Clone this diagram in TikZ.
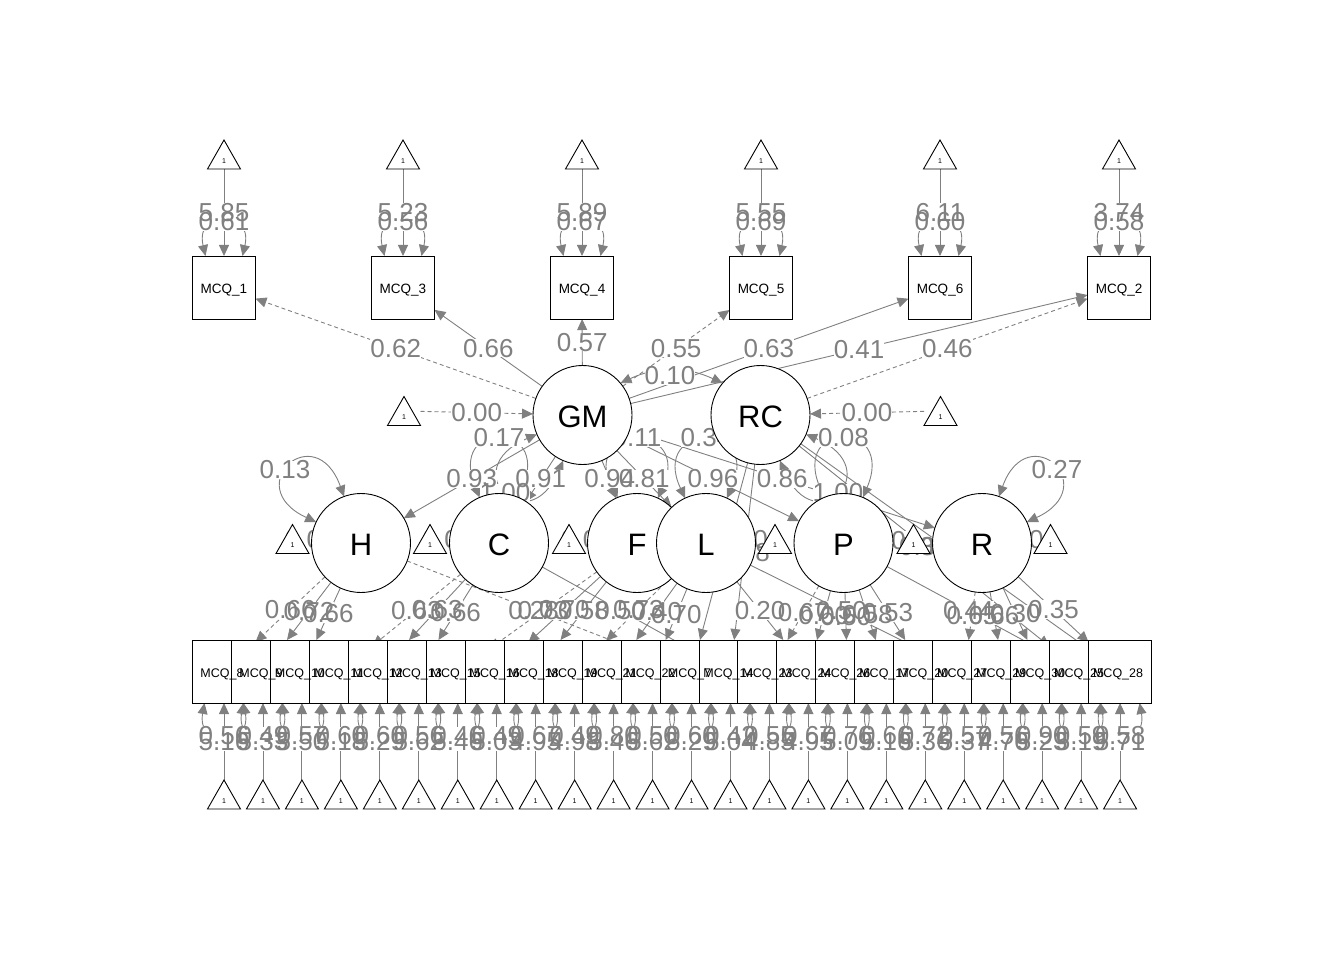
\documentclass[tikz,border=0pt]{standalone}
\usepackage{fontspec}
\setmainfont{Liberation Sans}
\usetikzlibrary{arrows.meta}
\pgfdeclarelayer{edges}
\pgfdeclarelayer{lbg}
\pgfdeclarelayer{lfg}
\pgfdeclarelayer{nlab}
\pgfsetlayers{edges,lbg,lfg,main,nlab}
\tikzset{
 edge/.style={draw=gray, line width=0.9pt, -{Triangle[length=11pt,width=10pt]}},
 dsh/.style={dash pattern=on 4pt off 3pt},
 loopedge/.style={draw=gray, line width=0.9pt, {Triangle[length=11pt,width=10pt]}-{Triangle[length=11pt,width=10pt]}},
 lbl/.style={font=\fontsize{26}{26}\selectfont, text=gray, inner sep=0pt},
 lat/.style={circle, draw=black, fill=white, line width=0.9pt, minimum size=99pt, inner sep=0pt, outer sep=0pt},
 man/.style={rectangle, draw=black, fill=white, line width=0.9pt, minimum width=63pt, minimum height=63pt, inner sep=0pt, outer sep=0pt},
 tribox/.style={rectangle, minimum width=33pt, minimum height=29pt, inner sep=0pt, outer sep=0pt},
 tri/.style={draw=black, fill=white, line width=0.9pt},
 latlab/.style={font=\fontsize{31}{31}\selectfont, inner sep=0pt, yshift=-1.5pt},
 mlab/.style={font=\fontsize{13.5}{13.5}\selectfont, inner sep=0pt, yshift=-3pt},
 mlabb/.style={font=\fontsize{12.5}{12.5}\selectfont, inner sep=0pt, yshift=-3pt, xshift=-2pt},
 onelab/.style={font=\fontsize{7}{7}\selectfont, inner sep=0pt}
}
\newcommand\elab[2]{%
 \begin{pgfonlayer}{lbg}\node[lbl,fill=white,text=white] at (#1) {#2};\end{pgfonlayer}%
 \begin{pgfonlayer}{lfg}\node[lbl] at (#1) {#2};\end{pgfonlayer}}
\newcommand\ledge[4][]{%
 \begin{pgfonlayer}{edges}\draw[edge,#1] (#2) -- coordinate[midway] (tmpm) (#3);\end{pgfonlayer}%
 \elab{tmpm}{#4}}
\newcommand\lloop[7]{%
 \begin{pgfonlayer}{edges}\draw[loopedge] (#1.#2) .. controls +(#2:#4) and +(#3:#4) .. (#1.#3);\end{pgfonlayer}%
 \elab{#5,#6}{#7}}
\newcommand\trinode[3]{%
 \node[tribox] (#1) at (#2,#3) {};
 \draw[tri] (#1.south west) -- (#1.south east) -- (#1.north) -- cycle;
 \begin{pgfonlayer}{nlab}\node[onelab] at ([yshift=8pt]#1.south) {1};\end{pgfonlayer}}
\newcommand\latnode[4]{%
 \node[lat] (#1) at (#2,#3) {};
 \begin{pgfonlayer}{nlab}\node[latlab] at (#1) {#4};\end{pgfonlayer}}
\def\botlist{8/0.56/5.16, 9/0.49/5.33, 10/0.57/5.50, 11/0.60/5.18, 12/0.60/5.29, 13/0.56/5.62, 15/0.46/5.46, 16/0.49/5.03, 18/0.67/4.95, 19/0.49/4.98, 21/0.80/5.46, 22/0.50/5.62, 7/0.60/5.29, 14/0.42/5.04, 23/0.55/4.85, 24/0.67/4.95, 26/0.76/5.09, 17/0.66/5.16, 20/0.72/5.36, 27/0.57/5.37, 29/0.56/4.76, 30/0.90/5.23, 25/0.59/5.19, 28/0.58/5.71}
\begin{document}
\begin{tikzpicture}[x=1pt,y=1pt]
\useasboundingbox (0,0) rectangle (1344,-960);
% ---------- top manifest items
\foreach \n/\x/\iv/\rv in {1/224/5.85/0.61, 3/403/5.23/0.56, 4/582/5.89/0.67, 5/761/5.55/0.69, 6/940/6.11/0.60, 2/1119/3.74/0.58} {
 \node[man] (m\n) at (\x,-287.5) {};
 \begin{pgfonlayer}{nlab}\node[mlab] at (m\n) {MCQ\_\n};\end{pgfonlayer}
 \trinode{i\n}{\x}{-154.5}
 \ledge{i\n}{m\n}{\iv}
 \begin{pgfonlayer}{edges}\draw[loopedge] ([xshift=-18.5pt]m\n.north) .. controls +(-11,48) and +(11,48) .. ([xshift=18.5pt]m\n.north);\end{pgfonlayer}
 \elab{[yshift=34pt]m\n.north}{\rv}
}
% ---------- bottom manifest items
\foreach \n/\rv/\iv [count=\k from 0] in \botlist {
 \pgfmathsetmacro\xx{224+38.96*\k}
 \node[man] (m\n) at (\xx,-671.5) {};
 \begin{pgfonlayer}{nlab}\node[mlabb] at (m\n) {MCQ\_\n};\end{pgfonlayer}
 \trinode{i\n}{\xx}{-794.5}
 \ledge{i\n}{m\n}{\iv}
 \begin{pgfonlayer}{edges}\draw[loopedge] ([xshift=-19.5pt]m\n.south) .. controls +(-8,-45) and +(8,-45) .. ([xshift=19.5pt]m\n.south);\end{pgfonlayer}
 \elab{[yshift=-33pt]m\n.south}{\rv}
}
% ---------- latents
\latnode{GM}{582.5}{-415}{GM}
\latnode{RC}{760.5}{-415}{RC}
\latnode{H}{361}{-543}{H}
\latnode{C}{499}{-543}{C}
\latnode{F}{637}{-543}{F}
\latnode{L}{706}{-543}{L}
\latnode{P}{843.5}{-543}{P}
\latnode{R}{982}{-543}{R}
% intercept triangles of latents
\trinode{iGM}{404}{-411}
\trinode{iRC}{940.5}{-411}
\trinode{iH}{292.5}{-539}
\trinode{iC}{430}{-539}
\trinode{iF}{569}{-539}
\trinode{iL}{775}{-539}
\trinode{iP}{913.5}{-539}
\trinode{iR}{1050.5}{-539}
\ledge[dsh]{iGM}{GM}{0.00}
\ledge[dsh]{iRC}{RC}{0.00}
\ledge[dsh]{iH}{H}{0.00}
\ledge[dsh]{iC}{C}{0.00}
\ledge[dsh]{iF}{F}{0.00}
\ledge[dsh]{iL}{L}{0.00}
\ledge[dsh]{iP}{P}{0.00}
\ledge[dsh]{iR}{R}{0.00}
% ---------- top loadings
\ledge[dsh]{GM}{m1}{0.62}
\ledge{GM}{m3}{0.66}
\ledge{GM}{m4}{0.57}
\ledge[dsh]{GM}{m5}{0.55}
\ledge{GM}{m6}{0.63}
\ledge{GM}{m2}{0.41}
\ledge[dsh]{RC}{m2}{0.46}
\begin{pgfonlayer}{edges}\draw[loopedge] (GM.40) .. controls +(25:40) and +(155:40) .. (RC.140);\end{pgfonlayer}
\elab{670,-376}{0.10}
% ---------- second order
\ledge{GM}{H}{0.93}
\ledge{GM}{C}{0.91}
\ledge{GM}{F}{0.94}
\ledge{GM}{L}{0.81}
\ledge{GM}{P}{0.96}
\ledge{GM}{R}{0.86}
% ---------- latent variances
\lloop{H}{110}{155}{85}{285}{-470}{0.13}
\lloop{C}{113}{67}{85}{499}{-438}{0.17}
\lloop{F}{115}{65}{85}{637}{-438}{0.11}
\lloop{L}{115}{65}{85}{706}{-438}{0.34}
\lloop{P}{113}{67}{85}{843.5}{-438}{0.08}
\lloop{R}{70}{25}{85}{1057}{-470}{0.27}
\lloop{GM}{203}{247}{90}{505}{-493}{1.00}
\lloop{RC}{293}{337}{90}{838}{-493}{1.00}
% ---------- bottom loadings
\ledge[dsh]{H}{m8}{0.66}
\ledge{H}{m9}{0.72}
\ledge{H}{m10}{0.66}
\ledge[dsh]{C}{m11}{0.63}
\ledge{C}{m12}{0.63}
\ledge{C}{m13}{0.66}
\ledge[dsh]{F}{m15}{0.73}
\ledge{F}{m16}{0.70}
\ledge{F}{m18}{0.58}
\ledge[dsh]{L}{m19}{0.73}
\ledge{L}{m21}{0.40}
\ledge{L}{m22}{0.70}
\ledge[dsh]{H}{m7}{0.28}
\ledge{C}{m14}{0.50}
\ledge{RC}{m7}{0.57}
\ledge{RC}{m14}{0.58}
\ledge[dsh]{P}{m23}{0.67}
\ledge{P}{m24}{0.60}
\ledge{P}{m26}{0.50}
\ledge{P}{m17}{0.58}
\ledge{P}{m20}{0.53}
\ledge{L}{m24}{0.20}
\ledge{L}{m27}{0.50}
\ledge{P}{m25}{0.44}
\ledge[dsh]{R}{m27}{0.65}
\ledge{R}{m29}{0.66}
\ledge{R}{m30}{0.30}
\ledge{R}{m28}{0.35}
\ledge{RC}{m25}{0.39}
\ledge{RC}{m28}{0.38}
\end{tikzpicture}
\end{document}
